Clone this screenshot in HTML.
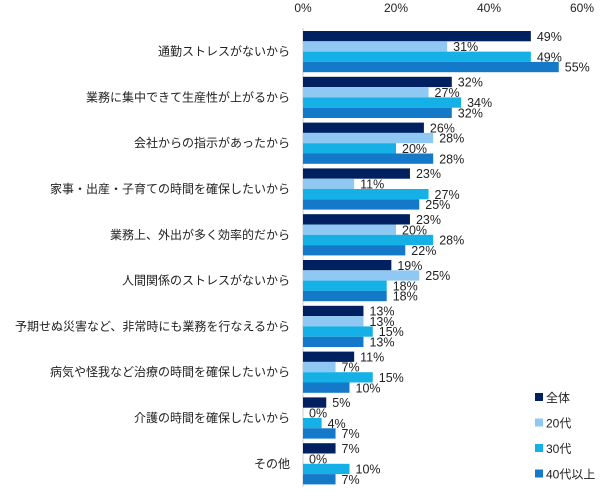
<!DOCTYPE html>
<html><head><meta charset="utf-8"><style>
body{margin:0;background:#fff}
svg text{font-family:"Liberation Sans","Noto Sans CJK JP",sans-serif;font-size:12px;fill:#222}
svg text.v{font-size:12.5px}
</style></head><body>
<svg width="605" height="491" id="c"></svg>
<script>
const categories=["通勤ストレスがないから","業務に集中できて生産性が上がるから","会社からの指示があったから","家事・出産・子育ての時間を確保したいから","業務上、外出が多く効率的だから","人間関係のストレスがないから","予期せぬ災害など、非常時にも業務を行なえるから","病気や怪我など治療の時間を確保したいから","介護の時間を確保したいから","その他"];
const seriesNames=["全体","20代","30代","40代以上"];
const allValues=[49,32,26,23,23,19,13,11,5,7];
const age20Values=[31,27,28,11,20,25,13,7,0,0];
const age30Values=[49,34,20,27,28,18,15,15,4,10];
const age40Values=[55,32,28,25,22,18,13,10,7,7];
const ticks=[0,20,40,60];
const colors=["#002060","#8fc8f2","#15b0e6","#1479c8"];
const series=[allValues,age20Values,age30Values,age40Values];
const NS="http://www.w3.org/2000/svg";
const svg=document.getElementById('c');
const x=v=>303+v*4.65;
const g0=31,pitch=45.8,bh=10.3;
function el(t,a){const e=document.createElementNS(NS,t);for(const k in a)e.setAttribute(k,a[k]);svg.appendChild(e);return e;}
ticks.forEach(t=>{const e=el('text',{x:x(t),y:12,'text-anchor':'middle'});e.textContent=t+'%';

});
const ax=el('line',{x1:303,x2:303,y1:28,y2:487,stroke:'#ccc'});


categories.forEach((c,i)=>{
 const gy=g0+i*pitch;
 const t=el('text',{x:290,y:gy+2*bh+4,'text-anchor':'end'});t.textContent=c;
 
 
 series.forEach((s,j)=>{
  const y=gy+j*bh;
  const r=el('rect',{x:303,y:y,width:Math.max(0,x(s[i])-303),height:bh,fill:colors[j]});
  
  
  const l=el('text',{x:x(s[i])+6,y:y+bh-0.5,'class':'v'});l.textContent=s[i]+'%';
  
  
 });
});
seriesNames.forEach((n,j)=>{
 const y=397+j*25.5;
 const r=el('rect',{x:535,y:y-4,width:8,height:8,fill:colors[j]});
 
 
 const t=el('text',{x:546,y:y+5});t.textContent=n;
 
 
});
</script>
</body></html>
